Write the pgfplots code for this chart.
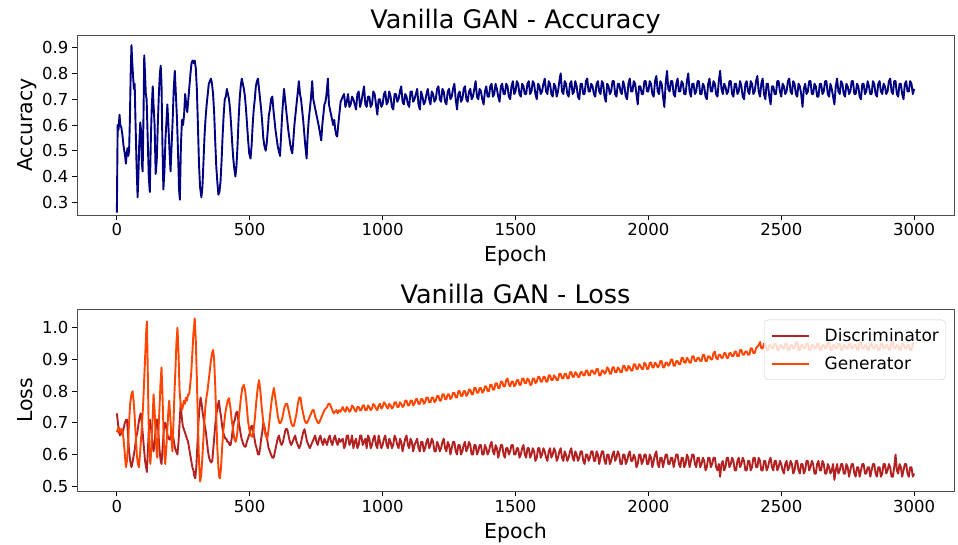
\documentclass[border=0pt]{standalone}
\usepackage{pgfplots}
\pgfplotsset{compat=1.18}
\usepackage{pgfplotstable}
\usepackage{fontspec}
\setmainfont{DejaVu Sans}
\definecolor{navyc}{RGB}{0,0,128}
\definecolor{fireb}{RGB}{178,34,34}
\definecolor{orred}{RGB}{255,69,0}

\pgfplotstableread[row sep=\\]{
ep v\\
0 0.26\\ 3 0.60\\ 6 0.58\\ 10 0.64\\ 13 0.60\\ 17 0.59\\ 21 0.56\\ 25 0.52\\ 28 0.50\\ 31 0.48\\ 34 0.45\\ 37 0.49\\ 40 0.51\\ 43 0.48\\ 46 0.50\\ 49 0.62\\ 52 0.80\\ 55 0.91\\ 58 0.84\\ 61 0.79\\ 64 0.74\\ 67 0.76\\ 70 0.62\\ 74 0.45\\ 78 0.32\\ 81 0.40\\ 84 0.52\\ 88 0.61\\ 91 0.58\\ 94 0.45\\ 97 0.42\\ 100 0.62\\ 103 0.87\\ 106 0.80\\ 109 0.72\\ 112 0.70\\ 116 0.55\\ 120 0.40\\ 124 0.34\\ 128 0.55\\ 131 0.66\\ 135 0.75\\ 138 0.68\\ 142 0.60\\ 146 0.41\\ 150 0.46\\ 154 0.60\\ 158 0.72\\ 162 0.80\\ 165 0.83\\ 168 0.76\\ 171 0.55\\ 175 0.35\\ 179 0.42\\ 183 0.55\\ 187 0.62\\ 190 0.68\\ 194 0.60\\ 198 0.50\\ 202 0.42\\ 206 0.52\\ 210 0.62\\ 214 0.74\\ 218 0.81\\ 222 0.72\\ 226 0.63\\ 230 0.50\\ 234 0.35\\ 237 0.31\\ 241 0.52\\ 245 0.62\\ 249 0.60\\ 253 0.64\\ 257 0.72\\ 261 0.68\\ 265 0.65\\ 269 0.70\\ 273 0.75\\ 277 0.80\\ 281 0.84\\ 285 0.85\\ 289 0.84\\ 293 0.85\\ 297 0.82\\ 301 0.74\\ 305 0.60\\ 309 0.45\\ 313 0.36\\ 318 0.32\\ 322 0.36\\ 326 0.46\\ 330 0.56\\ 334 0.63\\ 338 0.68\\ 342 0.72\\ 346 0.76\\ 350 0.77\\ 354 0.78\\ 358 0.76\\ 362 0.72\\ 366 0.65\\ 370 0.54\\ 374 0.44\\ 378 0.38\\ 382 0.33\\ 386 0.34\\ 390 0.38\\ 394 0.46\\ 398 0.56\\ 402 0.64\\ 406 0.70\\ 410 0.71\\ 414 0.74\\ 418 0.72\\ 422 0.70\\ 426 0.66\\ 430 0.60\\ 434 0.53\\ 438 0.47\\ 442 0.43\\ 446 0.40\\ 450 0.44\\ 454 0.52\\ 458 0.62\\ 462 0.70\\ 466 0.75\\ 470 0.78\\ 474 0.76\\ 478 0.74\\ 482 0.71\\ 486 0.66\\ 490 0.60\\ 494 0.54\\ 498 0.49\\ 503 0.47\\ 507 0.52\\ 511 0.60\\ 515 0.66\\ 519 0.70\\ 523 0.75\\ 527 0.77\\ 531 0.78\\ 535 0.74\\ 539 0.70\\ 543 0.66\\ 547 0.61\\ 551 0.55\\ 555 0.52\\ 560 0.50\\ 564 0.53\\ 568 0.58\\ 572 0.64\\ 576 0.66\\ 580 0.70\\ 585 0.71\\ 589 0.66\\ 593 0.62\\ 597 0.58\\ 601 0.55\\ 605 0.52\\ 609 0.50\\ 614 0.48\\ 618 0.56\\ 622 0.64\\ 626 0.70\\ 629 0.74\\ 633 0.70\\ 637 0.66\\ 641 0.62\\ 645 0.58\\ 649 0.55\\ 653 0.52\\ 657 0.50\\ 660 0.49\\ 664 0.54\\ 668 0.60\\ 672 0.64\\ 676 0.68\\ 680 0.72\\ 685 0.77\\ 689 0.72\\ 693 0.70\\ 697 0.66\\ 701 0.62\\ 705 0.57\\ 709 0.52\\ 714 0.47\\ 718 0.56\\ 722 0.62\\ 726 0.66\\ 730 0.70\\ 735 0.77\\ 739 0.70\\ 743 0.68\\ 747 0.66\\ 751 0.64\\ 755 0.62\\ 759 0.60\\ 764 0.57\\ 769 0.54\\ 773 0.60\\ 777 0.64\\ 781 0.68\\ 785 0.69\\ 789 0.72\\ 794 0.78\\ 798 0.68\\ 802 0.66\\ 806 0.64\\ 810 0.62\\ 814 0.60\\ 818 0.62\\ 822 0.58\\ 826 0.56\\ 829 0.555\\ 833 0.60\\ 837 0.64\\ 842 0.69\\
850 0.71\\ 855 0.72\\ 860 0.67\\ 865 0.69\\ 870 0.72\\ 875 0.67\\ 880 0.68\\ 885 0.71\\ 890 0.70\\ 895 0.68\\ 900 0.66\\ 905 0.72\\ 910 0.73\\ 915 0.67\\ 920 0.69\\ 925 0.72\\ 930 0.75\\ 935 0.68\\ 940 0.67\\ 945 0.71\\ 950 0.71\\ 955 0.67\\ 960 0.68\\ 965 0.73\\ 970 0.72\\ 975 0.68\\ 980 0.64\\ 985 0.70\\ 990 0.70\\ 995 0.67\\ 1000 0.68\\ 1005 0.72\\ 1010 0.73\\ 1015 0.68\\ 1020 0.69\\ 1025 0.73\\ 1030 0.71\\ 1035 0.67\\ 1040 0.66\\ 1045 0.72\\ 1050 0.72\\ 1055 0.69\\ 1060 0.70\\ 1065 0.73\\ 1070 0.75\\ 1075 0.69\\ 1080 0.68\\ 1085 0.72\\ 1090 0.71\\ 1095 0.68\\ 1100 0.67\\ 1105 0.73\\ 1110 0.73\\ 1115 0.69\\ 1120 0.70\\ 1125 0.72\\ 1130 0.74\\ 1135 0.68\\ 1140 0.66\\ 1145 0.73\\ 1150 0.71\\ 1155 0.68\\ 1160 0.69\\ 1165 0.72\\ 1170 0.74\\ 1175 0.70\\ 1180 0.68\\ 1185 0.73\\ 1190 0.72\\ 1195 0.69\\ 1200 0.70\\ 1205 0.74\\ 1210 0.75\\ 1215 0.70\\ 1220 0.69\\ 1225 0.74\\ 1230 0.73\\ 1235 0.69\\ 1240 0.68\\ 1245 0.73\\ 1250 0.74\\ 1255 0.70\\ 1260 0.71\\ 1265 0.74\\ 1270 0.76\\ 1275 0.70\\ 1280 0.66\\ 1285 0.72\\ 1290 0.73\\ 1295 0.69\\ 1300 0.70\\ 1305 0.74\\ 1310 0.75\\ 1315 0.70\\ 1320 0.69\\ 1325 0.73\\ 1330 0.74\\ 1335 0.70\\ 1340 0.71\\ 1345 0.74\\ 1350 0.77\\ 1355 0.71\\ 1360 0.70\\ 1365 0.74\\ 1370 0.73\\ 1375 0.70\\ 1380 0.68\\ 1385 0.73\\ 1390 0.75\\ 1395 0.71\\ 1400 0.71\\ 1405 0.75\\ 1410 0.76\\ 1415 0.71\\ 1420 0.72\\ 1425 0.76\\ 1430 0.74\\ 1435 0.71\\ 1440 0.69\\ 1445 0.75\\ 1450 0.76\\ 1455 0.72\\ 1460 0.72\\ 1465 0.76\\ 1470 0.75\\ 1475 0.71\\ 1480 0.70\\ 1485 0.75\\ 1490 0.77\\ 1495 0.72\\ 1500 0.73\\
1505 0.77\\ 1510 0.76\\ 1515 0.72\\ 1520 0.71\\ 1525 0.76\\ 1530 0.75\\ 1535 0.72\\ 1540 0.72\\ 1545 0.76\\ 1550 0.77\\ 1555 0.72\\ 1560 0.73\\ 1565 0.77\\ 1570 0.76\\ 1575 0.72\\ 1580 0.70\\ 1585 0.76\\ 1590 0.75\\ 1595 0.72\\ 1600 0.73\\ 1605 0.76\\ 1610 0.78\\ 1615 0.73\\ 1620 0.72\\ 1625 0.77\\ 1630 0.76\\ 1635 0.72\\ 1640 0.71\\ 1645 0.76\\ 1650 0.75\\ 1655 0.71\\ 1660 0.73\\ 1665 0.77\\ 1670 0.80\\ 1675 0.73\\ 1680 0.72\\ 1685 0.77\\ 1690 0.76\\ 1695 0.72\\ 1700 0.71\\ 1705 0.76\\ 1710 0.77\\ 1715 0.72\\ 1720 0.73\\ 1725 0.77\\ 1730 0.75\\ 1735 0.71\\ 1740 0.70\\ 1745 0.76\\ 1750 0.76\\ 1755 0.72\\ 1760 0.72\\ 1765 0.77\\ 1770 0.78\\ 1775 0.73\\ 1780 0.73\\ 1785 0.76\\ 1790 0.75\\ 1795 0.72\\ 1800 0.71\\ 1805 0.76\\ 1810 0.77\\ 1815 0.73\\ 1820 0.72\\ 1825 0.77\\ 1830 0.76\\ 1835 0.71\\ 1840 0.69\\ 1845 0.76\\ 1850 0.75\\ 1855 0.72\\ 1860 0.73\\ 1865 0.77\\ 1870 0.77\\ 1875 0.72\\ 1880 0.71\\ 1885 0.76\\ 1890 0.76\\ 1895 0.73\\ 1900 0.72\\ 1905 0.77\\ 1910 0.75\\ 1915 0.71\\ 1920 0.70\\ 1925 0.76\\ 1930 0.78\\ 1935 0.73\\ 1940 0.73\\ 1945 0.77\\ 1950 0.76\\ 1955 0.72\\ 1960 0.68\\ 1965 0.75\\ 1970 0.75\\ 1975 0.72\\ 1980 0.72\\ 1985 0.77\\ 1990 0.77\\ 1995 0.73\\ 2000 0.73\\
2005 0.77\\ 2010 0.76\\ 2015 0.72\\ 2020 0.71\\ 2025 0.77\\ 2030 0.79\\ 2035 0.73\\ 2040 0.72\\ 2045 0.77\\ 2050 0.76\\ 2055 0.71\\ 2060 0.67\\ 2065 0.76\\ 2070 0.81\\ 2075 0.74\\ 2080 0.73\\ 2085 0.77\\ 2090 0.77\\ 2095 0.72\\ 2100 0.71\\ 2105 0.76\\ 2110 0.78\\ 2115 0.73\\ 2120 0.73\\ 2125 0.77\\ 2130 0.76\\ 2135 0.72\\ 2140 0.72\\ 2145 0.77\\ 2150 0.80\\ 2155 0.73\\ 2160 0.71\\ 2165 0.76\\ 2170 0.76\\ 2175 0.72\\ 2180 0.73\\ 2185 0.77\\ 2190 0.77\\ 2195 0.72\\ 2200 0.72\\ 2205 0.76\\ 2210 0.75\\ 2215 0.71\\ 2220 0.70\\ 2225 0.76\\ 2230 0.78\\ 2235 0.73\\ 2240 0.73\\ 2245 0.77\\ 2250 0.76\\ 2255 0.72\\ 2260 0.71\\ 2265 0.77\\ 2270 0.81\\ 2275 0.74\\ 2280 0.72\\ 2285 0.76\\ 2290 0.75\\ 2295 0.72\\ 2300 0.73\\ 2305 0.77\\ 2310 0.77\\ 2315 0.72\\ 2320 0.71\\ 2325 0.76\\ 2330 0.76\\ 2335 0.72\\ 2340 0.73\\ 2345 0.77\\ 2350 0.75\\ 2355 0.71\\ 2360 0.70\\ 2365 0.76\\ 2370 0.77\\ 2375 0.73\\ 2380 0.72\\ 2385 0.77\\ 2390 0.76\\ 2395 0.72\\ 2400 0.73\\ 2405 0.77\\ 2410 0.79\\ 2415 0.73\\ 2420 0.71\\ 2425 0.76\\ 2430 0.78\\ 2435 0.72\\ 2440 0.70\\ 2445 0.76\\ 2450 0.76\\ 2455 0.71\\ 2460 0.68\\ 2465 0.75\\ 2470 0.75\\ 2475 0.72\\ 2480 0.72\\ 2485 0.77\\ 2490 0.77\\ 2495 0.73\\ 2500 0.71\\
2505 0.76\\ 2510 0.75\\ 2515 0.72\\ 2520 0.73\\ 2525 0.77\\ 2530 0.78\\ 2535 0.73\\ 2540 0.72\\ 2545 0.77\\ 2550 0.76\\ 2555 0.72\\ 2560 0.71\\ 2565 0.76\\ 2570 0.75\\ 2575 0.72\\ 2580 0.67\\ 2585 0.74\\ 2590 0.76\\ 2595 0.72\\ 2600 0.73\\ 2605 0.77\\ 2610 0.77\\ 2615 0.72\\ 2620 0.72\\ 2625 0.76\\ 2630 0.75\\ 2635 0.71\\ 2640 0.71\\ 2645 0.76\\ 2650 0.76\\ 2655 0.72\\ 2660 0.73\\ 2665 0.77\\ 2670 0.77\\ 2675 0.72\\ 2680 0.71\\ 2685 0.76\\ 2690 0.74\\ 2695 0.71\\ 2700 0.68\\ 2705 0.75\\ 2710 0.78\\ 2715 0.73\\ 2720 0.72\\ 2725 0.77\\ 2730 0.76\\ 2735 0.72\\ 2740 0.71\\ 2745 0.76\\ 2750 0.75\\ 2755 0.72\\ 2760 0.73\\ 2765 0.77\\ 2770 0.77\\ 2775 0.72\\ 2780 0.72\\ 2785 0.76\\ 2790 0.75\\ 2795 0.71\\ 2800 0.70\\ 2805 0.76\\ 2810 0.76\\ 2815 0.72\\ 2820 0.73\\ 2825 0.77\\ 2830 0.75\\ 2835 0.72\\ 2840 0.72\\ 2845 0.77\\ 2850 0.76\\ 2855 0.72\\ 2860 0.71\\ 2865 0.76\\ 2870 0.77\\ 2875 0.73\\ 2880 0.72\\ 2885 0.76\\ 2890 0.75\\ 2895 0.72\\ 2900 0.73\\ 2905 0.77\\ 2910 0.78\\ 2915 0.73\\ 2920 0.72\\ 2925 0.77\\ 2930 0.77\\ 2935 0.72\\ 2940 0.71\\ 2945 0.76\\ 2950 0.76\\ 2955 0.72\\ 2960 0.70\\ 2965 0.76\\ 2970 0.77\\ 2975 0.73\\ 2980 0.73\\ 2985 0.77\\ 2990 0.76\\ 2995 0.72\\ 3000 0.74\\
}\accdata

\pgfplotstableread[row sep=\\]{
ep v\\
0 0.73\\ 4 0.70\\ 8 0.67\\ 12 0.66\\ 16 0.67\\ 20 0.665\\ 25 0.68\\ 30 0.70\\ 35 0.71\\ 38 0.71\\ 42 0.66\\ 46 0.61\\ 50 0.58\\ 55 0.56\\ 60 0.58\\ 64 0.60\\ 68 0.62\\ 72 0.65\\ 77 0.67\\ 82 0.70\\ 86 0.72\\ 90 0.73\\ 94 0.70\\ 98 0.66\\ 102 0.62\\ 106 0.58\\ 110 0.56\\ 113 0.545\\ 117 0.62\\ 121 0.69\\ 125 0.71\\ 129 0.68\\ 133 0.64\\ 138 0.61\\ 142 0.64\\ 146 0.68\\ 150 0.71\\ 153 0.71\\ 157 0.66\\ 161 0.61\\ 165 0.58\\ 168 0.57\\ 172 0.62\\ 176 0.67\\ 180 0.70\\ 183 0.70\\ 187 0.68\\ 191 0.66\\ 195 0.65\\ 199 0.647\\ 203 0.66\\ 207 0.68\\ 211 0.66\\ 215 0.64\\ 219 0.62\\ 223 0.61\\ 228 0.60\\ 232 0.64\\ 236 0.70\\ 240 0.76\\ 244 0.72\\ 248 0.69\\ 252 0.68\\ 256 0.67\\ 260 0.66\\ 264 0.65\\ 268 0.64\\ 272 0.62\\ 276 0.60\\ 280 0.58\\ 284 0.56\\ 288 0.55\\ 292 0.53\\ 295 0.525\\ 299 0.56\\ 303 0.63\\ 307 0.70\\ 311 0.75\\ 315 0.78\\ 319 0.76\\ 323 0.73\\ 327 0.71\\ 331 0.69\\ 335 0.67\\ 339 0.64\\ 343 0.61\\ 347 0.59\\ 351 0.58\\ 355 0.575\\ 359 0.58\\ 363 0.62\\ 367 0.66\\ 371 0.70\\ 375 0.73\\ 379 0.75\\ 384 0.77\\ 388 0.74\\ 392 0.72\\ 396 0.69\\ 400 0.67\\ 404 0.66\\ 408 0.65\\ 412 0.65\\ 416 0.64\\ 420 0.64\\ 424 0.63\\ 428 0.63\\ 432 0.65\\ 436 0.68\\ 440 0.70\\ 444 0.71\\ 448 0.73\\ 453 0.735\\ 457 0.71\\ 461 0.69\\ 465 0.67\\ 469 0.65\\ 473 0.64\\ 477 0.63\\ 481 0.625\\ 485 0.625\\ 489 0.64\\ 493 0.65\\ 497 0.66\\ 501 0.67\\ 506 0.69\\ 510 0.69\\ 514 0.67\\ 518 0.65\\ 522 0.63\\ 526 0.62\\ 531 0.60\\ 535 0.60\\ 539 0.62\\ 543 0.65\\ 547 0.67\\ 551 0.70\\ 555 0.69\\ 559 0.67\\ 563 0.66\\ 567 0.64\\ 571 0.62\\ 576 0.61\\ 580 0.60\\ 585 0.59\\ 590 0.59\\ 595 0.61\\ 600 0.63\\ 605 0.65\\ 610 0.66\\ 615 0.64\\ 620 0.63\\ 625 0.64\\ 630 0.66\\ 635 0.68\\ 641 0.68\\ 646 0.66\\ 651 0.64\\ 656 0.63\\ 661 0.64\\ 666 0.65\\ 671 0.66\\ 676 0.64\\ 681 0.63\\ 686 0.62\\ 691 0.63\\ 696 0.65\\ 701 0.67\\ 706 0.68\\ 711 0.66\\ 716 0.64\\ 721 0.63\\ 726 0.62\\ 731 0.63\\ 736 0.64\\ 741 0.65\\ 746 0.66\\ 751 0.64\\ 756 0.63\\ 761 0.65\\ 766 0.66\\ 771 0.64\\ 776 0.63\\ 781 0.65\\ 786 0.64\\ 791 0.63\\ 796 0.65\\ 801 0.66\\ 806 0.64\\ 811 0.63\\ 816 0.65\\ 821 0.66\\ 826 0.64\\ 831 0.63\\ 836 0.65\\ 841 0.64\\
850 0.65\\ 855 0.62\\ 860 0.63\\ 865 0.66\\ 870 0.66\\ 875 0.63\\ 880 0.64\\ 885 0.66\\ 890 0.62\\ 895 0.64\\ 900 0.65\\ 905 0.62\\ 910 0.63\\ 915 0.66\\ 920 0.66\\ 925 0.63\\ 930 0.64\\ 935 0.65\\ 940 0.62\\ 945 0.66\\ 950 0.65\\ 955 0.62\\ 960 0.63\\ 965 0.65\\ 970 0.66\\ 975 0.63\\ 980 0.62\\ 985 0.66\\ 990 0.64\\ 995 0.62\\ 1000 0.63\\ 1005 0.65\\ 1010 0.66\\ 1015 0.63\\ 1020 0.62\\ 1025 0.65\\ 1030 0.64\\ 1035 0.62\\ 1040 0.63\\ 1045 0.66\\ 1050 0.65\\ 1055 0.63\\ 1060 0.62\\ 1065 0.65\\ 1070 0.64\\ 1075 0.61\\ 1080 0.63\\ 1085 0.65\\ 1090 0.66\\ 1095 0.63\\ 1100 0.62\\ 1105 0.65\\ 1110 0.64\\ 1115 0.61\\ 1120 0.63\\ 1125 0.64\\ 1130 0.65\\ 1135 0.62\\ 1140 0.61\\ 1145 0.64\\ 1150 0.64\\ 1155 0.61\\ 1160 0.62\\ 1165 0.64\\ 1170 0.65\\ 1175 0.62\\ 1180 0.63\\ 1185 0.65\\ 1190 0.64\\ 1195 0.61\\ 1200 0.61\\ 1205 0.64\\ 1210 0.63\\ 1215 0.61\\ 1220 0.62\\ 1225 0.64\\ 1230 0.65\\ 1235 0.62\\ 1240 0.61\\ 1245 0.64\\ 1250 0.63\\ 1255 0.60\\ 1260 0.62\\ 1265 0.64\\ 1270 0.64\\ 1275 0.61\\ 1280 0.60\\ 1285 0.63\\ 1290 0.63\\ 1295 0.60\\ 1300 0.61\\ 1305 0.63\\ 1310 0.64\\ 1315 0.61\\ 1320 0.62\\ 1325 0.64\\ 1330 0.63\\ 1335 0.60\\ 1340 0.60\\ 1345 0.63\\ 1350 0.63\\ 1355 0.60\\ 1360 0.61\\ 1365 0.63\\ 1370 0.63\\ 1375 0.60\\ 1380 0.60\\ 1385 0.63\\ 1390 0.62\\ 1395 0.60\\ 1400 0.61\\ 1405 0.63\\ 1410 0.64\\ 1415 0.61\\ 1420 0.60\\ 1425 0.63\\ 1430 0.62\\ 1435 0.59\\ 1440 0.61\\ 1445 0.63\\ 1450 0.63\\ 1455 0.60\\ 1460 0.59\\ 1465 0.62\\ 1470 0.62\\ 1475 0.60\\ 1480 0.61\\ 1485 0.63\\ 1490 0.63\\ 1495 0.60\\ 1500 0.60\\
1505 0.62\\ 1510 0.62\\ 1515 0.59\\ 1520 0.60\\ 1525 0.62\\ 1530 0.63\\ 1535 0.60\\ 1540 0.59\\ 1545 0.62\\ 1550 0.62\\ 1555 0.59\\ 1560 0.60\\ 1565 0.62\\ 1570 0.61\\ 1575 0.58\\ 1580 0.59\\ 1585 0.62\\ 1590 0.62\\ 1595 0.59\\ 1600 0.60\\ 1605 0.62\\ 1610 0.61\\ 1615 0.59\\ 1620 0.58\\ 1625 0.61\\ 1630 0.62\\ 1635 0.59\\ 1640 0.60\\ 1645 0.62\\ 1650 0.61\\ 1655 0.58\\ 1660 0.59\\ 1665 0.61\\ 1670 0.62\\ 1675 0.59\\ 1680 0.58\\ 1685 0.61\\ 1690 0.60\\ 1695 0.58\\ 1700 0.59\\ 1705 0.61\\ 1710 0.62\\ 1715 0.59\\ 1720 0.58\\ 1725 0.61\\ 1730 0.60\\ 1735 0.58\\ 1740 0.59\\ 1745 0.61\\ 1750 0.61\\ 1755 0.58\\ 1760 0.57\\ 1765 0.60\\ 1770 0.60\\ 1775 0.58\\ 1780 0.59\\ 1785 0.61\\ 1790 0.61\\ 1795 0.58\\ 1800 0.58\\ 1805 0.61\\ 1810 0.60\\ 1815 0.57\\ 1820 0.59\\ 1825 0.61\\ 1830 0.61\\ 1835 0.58\\ 1840 0.57\\ 1845 0.60\\ 1850 0.60\\ 1855 0.57\\ 1860 0.58\\ 1865 0.60\\ 1870 0.61\\ 1875 0.58\\ 1880 0.59\\ 1885 0.61\\ 1890 0.60\\ 1895 0.57\\ 1900 0.57\\ 1905 0.60\\ 1910 0.60\\ 1915 0.57\\ 1920 0.58\\ 1925 0.60\\ 1930 0.61\\ 1935 0.58\\ 1940 0.58\\ 1945 0.60\\ 1950 0.59\\ 1955 0.56\\ 1960 0.57\\ 1965 0.60\\ 1970 0.60\\ 1975 0.57\\ 1980 0.58\\ 1985 0.60\\ 1990 0.60\\ 1995 0.57\\ 2000 0.57\\
2005 0.60\\ 2010 0.59\\ 2015 0.56\\ 2020 0.58\\ 2025 0.60\\ 2030 0.61\\ 2035 0.57\\ 2040 0.56\\ 2045 0.59\\ 2050 0.59\\ 2055 0.56\\ 2060 0.58\\ 2065 0.60\\ 2070 0.60\\ 2075 0.57\\ 2080 0.57\\ 2085 0.59\\ 2090 0.59\\ 2095 0.56\\ 2100 0.58\\ 2105 0.60\\ 2110 0.60\\ 2115 0.57\\ 2120 0.56\\ 2125 0.59\\ 2130 0.59\\ 2135 0.56\\ 2140 0.57\\ 2145 0.60\\ 2150 0.59\\ 2155 0.56\\ 2160 0.58\\ 2165 0.60\\ 2170 0.60\\ 2175 0.57\\ 2180 0.56\\ 2185 0.59\\ 2190 0.59\\ 2195 0.56\\ 2200 0.57\\ 2205 0.59\\ 2210 0.58\\ 2215 0.55\\ 2220 0.56\\ 2225 0.59\\ 2230 0.59\\ 2235 0.56\\ 2240 0.57\\ 2245 0.59\\ 2250 0.59\\ 2255 0.56\\ 2260 0.55\\ 2265 0.57\\ 2270 0.53\\ 2275 0.57\\ 2280 0.58\\ 2285 0.55\\ 2290 0.56\\ 2295 0.59\\ 2300 0.59\\ 2305 0.56\\ 2310 0.57\\ 2315 0.59\\ 2320 0.58\\ 2325 0.55\\ 2330 0.55\\ 2335 0.58\\ 2340 0.59\\ 2345 0.56\\ 2350 0.57\\ 2355 0.59\\ 2360 0.58\\ 2365 0.55\\ 2370 0.55\\ 2375 0.58\\ 2380 0.58\\ 2385 0.55\\ 2390 0.56\\ 2395 0.59\\ 2400 0.59\\ 2405 0.56\\ 2410 0.56\\ 2415 0.59\\ 2420 0.58\\ 2425 0.55\\ 2430 0.55\\ 2435 0.58\\ 2440 0.58\\ 2445 0.55\\ 2450 0.56\\ 2455 0.58\\ 2460 0.59\\ 2465 0.56\\ 2470 0.55\\ 2475 0.58\\ 2480 0.58\\ 2485 0.55\\ 2490 0.56\\ 2495 0.58\\ 2500 0.57\\
2505 0.55\\ 2510 0.54\\ 2515 0.57\\ 2520 0.58\\ 2525 0.55\\ 2530 0.56\\ 2535 0.58\\ 2540 0.57\\ 2545 0.54\\ 2550 0.55\\ 2555 0.58\\ 2560 0.58\\ 2565 0.55\\ 2570 0.54\\ 2575 0.57\\ 2580 0.57\\ 2585 0.54\\ 2590 0.55\\ 2595 0.58\\ 2600 0.58\\ 2605 0.55\\ 2610 0.56\\ 2615 0.58\\ 2620 0.57\\ 2625 0.54\\ 2630 0.54\\ 2635 0.57\\ 2640 0.58\\ 2645 0.55\\ 2650 0.55\\ 2655 0.58\\ 2660 0.57\\ 2665 0.54\\ 2670 0.54\\ 2675 0.57\\ 2680 0.56\\ 2685 0.54\\ 2690 0.55\\ 2695 0.57\\ 2700 0.52\\ 2705 0.55\\ 2710 0.57\\ 2715 0.54\\ 2720 0.55\\ 2725 0.57\\ 2730 0.57\\ 2735 0.54\\ 2740 0.54\\ 2745 0.57\\ 2750 0.56\\ 2755 0.53\\ 2760 0.55\\ 2765 0.57\\ 2770 0.57\\ 2775 0.54\\ 2780 0.53\\ 2785 0.56\\ 2790 0.56\\ 2795 0.53\\ 2800 0.55\\ 2805 0.57\\ 2810 0.57\\ 2815 0.54\\ 2820 0.54\\ 2825 0.56\\ 2830 0.56\\ 2835 0.53\\ 2840 0.55\\ 2845 0.57\\ 2850 0.57\\ 2855 0.54\\ 2860 0.53\\ 2865 0.56\\ 2870 0.56\\ 2875 0.53\\ 2880 0.54\\ 2885 0.57\\ 2890 0.57\\ 2895 0.54\\ 2900 0.55\\ 2905 0.57\\ 2910 0.56\\ 2915 0.53\\ 2920 0.53\\ 2925 0.56\\ 2930 0.60\\ 2935 0.55\\ 2940 0.54\\ 2945 0.57\\ 2950 0.56\\ 2955 0.53\\ 2960 0.55\\ 2965 0.57\\ 2970 0.57\\ 2975 0.54\\ 2980 0.53\\ 2985 0.56\\ 2990 0.56\\ 2995 0.53\\ 3000 0.54\\
}\discdata

\pgfplotstableread[row sep=\\]{
ep v\\
0 0.67\\ 4 0.68\\ 8 0.685\\ 12 0.67\\ 16 0.68\\ 20 0.68\\ 25 0.65\\ 30 0.60\\ 34 0.56\\ 38 0.58\\ 42 0.63\\ 46 0.70\\ 50 0.76\\ 55 0.79\\ 59 0.80\\ 63 0.77\\ 67 0.72\\ 71 0.66\\ 75 0.60\\ 79 0.57\\ 83 0.56\\ 87 0.60\\ 91 0.65\\ 95 0.70\\ 99 0.76\\ 103 0.84\\ 107 0.92\\ 110 0.98\\ 113 1.02\\ 116 0.88\\ 119 0.72\\ 122 0.62\\ 126 0.57\\ 130 0.62\\ 134 0.70\\ 138 0.79\\ 142 0.74\\ 146 0.66\\ 150 0.60\\ 152 0.59\\ 156 0.66\\ 160 0.74\\ 164 0.82\\ 168 0.875\\ 172 0.78\\ 176 0.66\\ 179 0.60\\ 182 0.57\\ 186 0.62\\ 190 0.68\\ 194 0.74\\ 197 0.77\\ 201 0.72\\ 205 0.66\\ 209 0.61\\ 213 0.70\\ 217 0.80\\ 221 0.88\\ 224 0.95\\ 228 1.00\\ 232 0.92\\ 236 0.80\\ 240 0.76\\ 244 0.74\\ 248 0.75\\ 252 0.77\\ 256 0.76\\ 260 0.78\\ 264 0.77\\ 268 0.79\\ 272 0.79\\ 276 0.82\\ 280 0.86\\ 284 0.92\\ 288 0.98\\ 293 1.03\\ 297 0.96\\ 301 0.84\\ 305 0.70\\ 309 0.58\\ 313 0.515\\ 317 0.53\\ 321 0.58\\ 325 0.64\\ 329 0.70\\ 333 0.75\\ 337 0.78\\ 341 0.80\\ 345 0.83\\ 349 0.86\\ 353 0.89\\ 358 0.92\\ 362 0.93\\ 366 0.90\\ 370 0.82\\ 374 0.72\\ 378 0.62\\ 382 0.56\\ 385 0.53\\ 388 0.525\\ 392 0.56\\ 396 0.62\\ 400 0.67\\ 404 0.70\\ 408 0.73\\ 412 0.75\\ 417 0.77\\ 422 0.778\\ 427 0.75\\ 432 0.71\\ 437 0.68\\ 442 0.65\\ 447 0.64\\ 452 0.66\\ 457 0.70\\ 462 0.74\\ 467 0.78\\ 472 0.81\\ 478 0.82\\ 483 0.80\\ 488 0.76\\ 493 0.71\\ 498 0.68\\ 504 0.66\\ 510 0.656\\ 515 0.68\\ 520 0.72\\ 525 0.77\\ 530 0.81\\ 535 0.835\\ 540 0.80\\ 545 0.75\\ 550 0.71\\ 555 0.68\\ 560 0.66\\ 566 0.65\\ 571 0.68\\ 576 0.72\\ 581 0.76\\ 586 0.79\\ 591 0.81\\ 596 0.78\\ 601 0.75\\ 606 0.72\\ 611 0.70\\ 616 0.70\\ 621 0.71\\ 626 0.73\\ 631 0.75\\ 636 0.76\\ 641 0.76\\ 646 0.74\\ 651 0.72\\ 656 0.70\\ 661 0.69\\ 666 0.69\\ 671 0.71\\ 676 0.73\\ 681 0.76\\ 686 0.78\\ 691 0.78\\ 696 0.75\\ 701 0.73\\ 706 0.71\\ 711 0.70\\ 716 0.70\\ 721 0.71\\ 726 0.72\\ 731 0.73\\ 736 0.74\\ 741 0.74\\ 746 0.72\\ 751 0.71\\ 756 0.70\\ 761 0.70\\ 766 0.71\\ 771 0.72\\ 776 0.73\\ 781 0.74\\ 786 0.745\\ 791 0.75\\ 796 0.76\\ 801 0.76\\ 806 0.75\\ 811 0.74\\ 816 0.73\\ 821 0.735\\ 826 0.74\\ 831 0.73\\ 836 0.74\\ 841 0.735\\
850 0.75\\ 855 0.74\\ 860 0.735\\ 865 0.75\\ 870 0.745\\ 875 0.735\\ 880 0.74\\ 885 0.755\\ 890 0.75\\ 895 0.74\\ 900 0.735\\ 905 0.75\\ 910 0.75\\ 915 0.74\\ 920 0.74\\ 925 0.755\\ 930 0.755\\ 935 0.74\\ 940 0.74\\ 945 0.755\\ 950 0.75\\ 955 0.74\\ 960 0.745\\ 965 0.76\\ 970 0.755\\ 975 0.745\\ 980 0.74\\ 985 0.755\\ 990 0.76\\ 995 0.745\\ 1000 0.75\\ 1005 0.765\\ 1010 0.76\\ 1015 0.75\\ 1020 0.745\\ 1025 0.76\\ 1030 0.755\\ 1035 0.745\\ 1040 0.75\\ 1045 0.765\\ 1050 0.765\\ 1055 0.75\\ 1060 0.75\\ 1065 0.765\\ 1070 0.76\\ 1075 0.75\\ 1080 0.755\\ 1085 0.77\\ 1090 0.77\\ 1095 0.755\\ 1100 0.755\\ 1105 0.77\\ 1110 0.77\\ 1115 0.755\\ 1120 0.76\\ 1125 0.775\\ 1130 0.775\\ 1135 0.76\\ 1140 0.76\\ 1145 0.775\\ 1150 0.775\\ 1155 0.76\\ 1160 0.765\\ 1165 0.78\\ 1170 0.78\\ 1175 0.765\\ 1180 0.765\\ 1185 0.78\\ 1190 0.78\\ 1195 0.765\\ 1200 0.77\\ 1205 0.785\\ 1210 0.785\\ 1215 0.77\\ 1220 0.77\\ 1225 0.79\\ 1230 0.79\\ 1235 0.775\\ 1240 0.775\\ 1245 0.79\\ 1250 0.79\\ 1255 0.775\\ 1260 0.78\\ 1265 0.795\\ 1270 0.795\\ 1275 0.78\\ 1280 0.78\\ 1285 0.80\\ 1290 0.80\\ 1295 0.785\\ 1300 0.785\\ 1305 0.80\\ 1310 0.80\\ 1315 0.785\\ 1320 0.79\\ 1325 0.805\\ 1330 0.805\\ 1335 0.79\\ 1340 0.79\\ 1345 0.81\\ 1350 0.81\\ 1355 0.795\\ 1360 0.795\\ 1365 0.81\\ 1370 0.81\\ 1375 0.795\\ 1380 0.80\\ 1385 0.815\\ 1390 0.815\\ 1395 0.80\\ 1400 0.80\\ 1405 0.82\\ 1410 0.82\\ 1415 0.805\\ 1420 0.805\\ 1425 0.825\\ 1430 0.825\\ 1435 0.81\\ 1440 0.81\\ 1445 0.83\\ 1450 0.83\\ 1455 0.815\\ 1460 0.815\\ 1465 0.835\\ 1470 0.84\\ 1475 0.82\\ 1480 0.815\\ 1485 0.83\\ 1490 0.83\\ 1495 0.815\\ 1500 0.82\\
1505 0.835\\ 1510 0.835\\ 1515 0.82\\ 1520 0.82\\ 1525 0.84\\ 1530 0.84\\ 1535 0.825\\ 1540 0.825\\ 1545 0.84\\ 1550 0.835\\ 1555 0.82\\ 1560 0.82\\ 1565 0.84\\ 1570 0.84\\ 1575 0.825\\ 1580 0.83\\ 1585 0.845\\ 1590 0.845\\ 1595 0.83\\ 1600 0.83\\ 1605 0.845\\ 1610 0.845\\ 1615 0.83\\ 1620 0.83\\ 1625 0.85\\ 1630 0.85\\ 1635 0.835\\ 1640 0.835\\ 1645 0.85\\ 1650 0.845\\ 1655 0.835\\ 1660 0.835\\ 1665 0.855\\ 1670 0.855\\ 1675 0.84\\ 1680 0.84\\ 1685 0.855\\ 1690 0.855\\ 1695 0.84\\ 1700 0.84\\ 1705 0.86\\ 1710 0.86\\ 1715 0.845\\ 1720 0.845\\ 1725 0.86\\ 1730 0.855\\ 1735 0.845\\ 1740 0.845\\ 1745 0.86\\ 1750 0.86\\ 1755 0.85\\ 1760 0.85\\ 1765 0.865\\ 1770 0.865\\ 1775 0.85\\ 1780 0.85\\ 1785 0.865\\ 1790 0.865\\ 1795 0.855\\ 1800 0.855\\ 1805 0.87\\ 1810 0.87\\ 1815 0.85\\ 1820 0.85\\ 1825 0.865\\ 1830 0.865\\ 1835 0.855\\ 1840 0.86\\ 1845 0.875\\ 1850 0.87\\ 1855 0.855\\ 1860 0.855\\ 1865 0.875\\ 1870 0.875\\ 1875 0.86\\ 1880 0.86\\ 1885 0.875\\ 1890 0.87\\ 1895 0.86\\ 1900 0.86\\ 1905 0.88\\ 1910 0.88\\ 1915 0.865\\ 1920 0.865\\ 1925 0.88\\ 1930 0.875\\ 1935 0.865\\ 1940 0.865\\ 1945 0.885\\ 1950 0.885\\ 1955 0.87\\ 1960 0.87\\ 1965 0.885\\ 1970 0.88\\ 1975 0.87\\ 1980 0.87\\ 1985 0.89\\ 1990 0.885\\ 1995 0.87\\ 2000 0.87\\
2005 0.89\\ 2010 0.89\\ 2015 0.875\\ 2020 0.875\\ 2025 0.89\\ 2030 0.885\\ 2035 0.875\\ 2040 0.88\\ 2045 0.895\\ 2050 0.895\\ 2055 0.875\\ 2060 0.875\\ 2065 0.89\\ 2070 0.89\\ 2075 0.88\\ 2080 0.885\\ 2085 0.90\\ 2090 0.90\\ 2095 0.88\\ 2100 0.88\\ 2105 0.895\\ 2110 0.895\\ 2115 0.885\\ 2120 0.885\\ 2125 0.905\\ 2130 0.905\\ 2135 0.89\\ 2140 0.89\\ 2145 0.905\\ 2150 0.90\\ 2155 0.89\\ 2160 0.89\\ 2165 0.91\\ 2170 0.91\\ 2175 0.895\\ 2180 0.895\\ 2185 0.905\\ 2190 0.905\\ 2195 0.895\\ 2200 0.895\\ 2205 0.915\\ 2210 0.915\\ 2215 0.895\\ 2220 0.895\\ 2225 0.91\\ 2230 0.91\\ 2235 0.90\\ 2240 0.90\\ 2245 0.92\\ 2250 0.925\\ 2255 0.905\\ 2260 0.90\\ 2265 0.915\\ 2270 0.915\\ 2275 0.905\\ 2280 0.905\\ 2285 0.92\\ 2290 0.92\\ 2295 0.905\\ 2300 0.905\\ 2305 0.92\\ 2310 0.92\\ 2315 0.91\\ 2320 0.91\\ 2325 0.925\\ 2330 0.925\\ 2335 0.91\\ 2340 0.91\\ 2345 0.93\\ 2350 0.93\\ 2355 0.915\\ 2360 0.915\\ 2365 0.925\\ 2370 0.925\\ 2375 0.915\\ 2380 0.915\\ 2385 0.935\\ 2390 0.935\\ 2395 0.92\\ 2400 0.92\\ 2405 0.935\\ 2410 0.94\\ 2415 0.945\\ 2420 0.955\\ 2425 0.935\\ 2430 0.935\\ 2435 0.95\\ 2440 0.95\\ 2445 0.93\\ 2450 0.93\\ 2455 0.945\\ 2460 0.945\\ 2465 0.935\\ 2470 0.935\\ 2475 0.95\\ 2480 0.95\\ 2485 0.93\\ 2490 0.93\\ 2495 0.945\\ 2500 0.945\\
2505 0.935\\ 2510 0.935\\ 2515 0.95\\ 2520 0.95\\ 2525 0.93\\ 2530 0.93\\ 2535 0.945\\ 2540 0.945\\ 2545 0.935\\ 2550 0.935\\ 2555 0.955\\ 2560 0.955\\ 2565 0.93\\ 2570 0.93\\ 2575 0.945\\ 2580 0.945\\ 2585 0.935\\ 2590 0.935\\ 2595 0.95\\ 2600 0.95\\ 2605 0.93\\ 2610 0.93\\ 2615 0.945\\ 2620 0.945\\ 2625 0.935\\ 2630 0.935\\ 2635 0.95\\ 2640 0.95\\ 2645 0.93\\ 2650 0.93\\ 2655 0.945\\ 2660 0.945\\ 2665 0.935\\ 2670 0.935\\ 2675 0.955\\ 2680 0.955\\ 2685 0.93\\ 2690 0.93\\ 2695 0.945\\ 2700 0.945\\ 2705 0.935\\ 2710 0.935\\ 2715 0.95\\ 2720 0.95\\ 2725 0.93\\ 2730 0.93\\ 2735 0.945\\ 2740 0.945\\ 2745 0.935\\ 2750 0.935\\ 2755 0.95\\ 2760 0.95\\ 2765 0.935\\ 2770 0.935\\ 2775 0.945\\ 2780 0.945\\ 2785 0.93\\ 2790 0.93\\ 2795 0.955\\ 2800 0.955\\ 2805 0.935\\ 2810 0.935\\ 2815 0.945\\ 2820 0.945\\ 2825 0.93\\ 2830 0.93\\ 2835 0.95\\ 2840 0.95\\ 2845 0.935\\ 2850 0.935\\ 2855 0.945\\ 2860 0.945\\ 2865 0.93\\ 2870 0.93\\ 2875 0.95\\ 2880 0.95\\ 2885 0.935\\ 2890 0.935\\ 2895 0.945\\ 2900 0.945\\ 2905 0.93\\ 2910 0.93\\ 2915 0.955\\ 2920 0.955\\ 2925 0.935\\ 2930 0.935\\ 2935 0.945\\ 2940 0.945\\ 2945 0.93\\ 2950 0.93\\ 2955 0.95\\ 2960 0.95\\ 2965 0.935\\ 2970 0.935\\ 2975 0.945\\ 2980 0.945\\ 2985 0.93\\ 2990 0.93\\ 2995 0.95\\ 3000 0.95\\
}\gendata

\pgfplotsset{gan/.style={
  scale only axis, width=877pt,
  xmin=-150, xmax=3150, xtick={0,500,...,3000},
  tick pos=left, tick align=outside, major tick length=5pt,
  tick style={black, line width=0.8pt},
  axis line style={black!70, line width=0.8pt},
  ticklabel style={font=\fontsize{16.5}{19}\selectfont},
  /pgf/number format/assume math mode=true,
  xticklabel style={/pgf/number format/.cd, fixed, 1000 sep={}},
  yticklabel style={/pgf/number format/.cd, fixed, fixed zerofill, precision=1},
  label style={font=\fontsize{20.5}{24}\selectfont},
  title style={font=\fontsize{25.5}{30}\selectfont, at={(axis description cs:0.5,1)}, anchor=base, yshift=0.5pt},
  xlabel={Epoch},
  xlabel style={at={(axis description cs:0.5,0)}, anchor=base, yshift=-47pt},
  ylabel style={at={(axis description cs:-0.0502,0.5)}, anchor=base},
  every axis plot/.append style={line width=1.9pt, line join=round},
}}

\begin{document}
\begin{tikzpicture}
\path[use as bounding box] (0pt,0pt) rectangle (958pt,544pt);
\begin{axis}[gan, at={(77pt,329pt)}, anchor=south west, height=180pt,
  ymin=0.251, ymax=0.949, ytick={0.3,0.4,...,0.91},
  title={Vanilla GAN - Accuracy}, ylabel={Accuracy}]
\addplot[navyc] table[x=ep, y=v] {\accdata};
\end{axis}
\begin{axis}[gan, at={(77pt,52.7pt)}, anchor=south west, height=181.6pt,
  ymin=0.484, ymax=1.057, ytick={0.5,0.6,...,1.01},
  title={Vanilla GAN - Loss}, ylabel={Loss},
  legend cell align=left,
  legend style={at={(axis description cs:0.9905,0.945)}, anchor=north east,
    draw=black!20, fill=white, fill opacity=0.8, draw opacity=1, text opacity=1,
    rounded corners=4pt, font=\fontsize{17}{20}\selectfont,
    nodes={inner sep=0pt, text height=13pt, text depth=2pt},
    row sep=12.7pt, inner xsep=6.5pt, inner ysep=8.6pt,
    /tikz/every odd column/.append style={column sep=15pt}},
  legend image code/.code={\draw[#1, line width=2pt] (0pt,0pt) -- (37pt,0pt);}]
\addplot[fireb] table[x=ep, y=v] {\discdata};
\addlegendentry{Discriminator}
\addplot[orred] table[x=ep, y=v] {\gendata};
\addlegendentry{Generator}
\end{axis}
\end{tikzpicture}
\end{document}
